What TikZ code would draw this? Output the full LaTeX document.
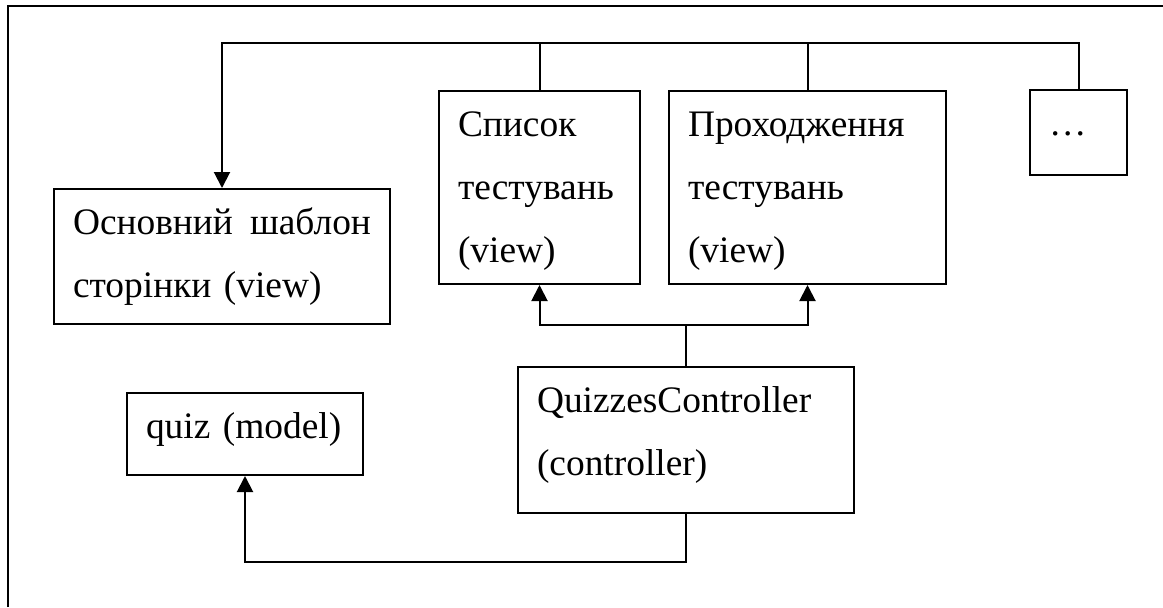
\documentclass[tikz,border=0pt]{standalone}
\usepackage{fontspec}
\setmainfont{Liberation Serif}
\usetikzlibrary{arrows.meta}

\begin{document}
\begin{tikzpicture}[x=0.5pt,y=-0.5pt]

%
% Styles
%
\tikzstyle{box}  = [rectangle, draw, line width=1pt, inner xsep=9.5pt, inner ysep=0pt, text height=22.5pt, align=left, font=\fontsize{18.7pt}{31.5pt}\selectfont]
\tikzstyle{line} = [line width=1pt]
\tikzstyle{edge} = [-{Triangle[length=8pt,width=8pt]}, line width=1pt]

\useasboundingbox (0,0) rectangle (1163,607);
\draw[line] (8,607) |- (1163,6);

\node[box, text width=149pt,   text depth=45pt]   (osnovnyi) at ( 222,  256.5) {Основний\hspace{\fill} шаблон\\сторінки (view)};
\node[box, text width=81.5pt,  text depth=74pt]   (spysok)   at ( 539.5,187.5) {Список\\тестувань\\(view)};
\node[box, text width=119.5pt, text depth=74pt]   (prokh)    at ( 807.5,187.5) {Проходження\\тестувань\\(view)};
\node[box, text width=29.5pt,  text depth=20pt]   (dots)     at (1078.5,132.5) {…};
\node[box, text width=149pt,   text depth=50.5pt] (ctrl)     at ( 686,  440)   {QuizzesController\\(controller)};
\node[box, text width=99pt,    text depth=18.5pt] (quiz)     at ( 245,  434)   {quiz (model)};

\coordinate (bus) at (0,43);

\draw[edge] (dots.north) |- (osnovnyi.north |- bus) -- (osnovnyi.north);
\draw[line] (spysok.north) -- (spysok.north |- bus);
\draw[line] (prokh.north) -- (prokh.north |- bus);
\draw[edge] (ctrl.north) -- ++(0,-41) -| (spysok.south);
\draw[edge] (ctrl.north) -- ++(0,-41) -| (prokh.south);
\draw[edge] (ctrl.south) -- ++(0,48) -| (quiz.south);

\end{tikzpicture}
\end{document}
